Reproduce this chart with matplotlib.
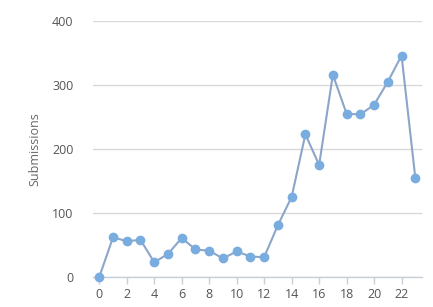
import matplotlib
matplotlib.use("Agg")
import matplotlib.pyplot as plt

hours = list(range(24))
submissions = [0, 62, 56, 58, 23, 36, 61, 43, 41, 29, 40, 32, 31, 81,
               125, 223, 175, 316, 255, 254, 269, 305, 346, 155]
x_ticks = list(range(0, 24, 2))
y_ticks = [0, 100, 200, 300, 400]
y_label = "Submissions"

plt.rcParams['font.family'] = ['Open Sans', 'DejaVu Sans']

fig = plt.figure(figsize=(4.33, 3.07), dpi=100)
ax = fig.add_axes([0.215, 0.0977, 0.76, 0.834])

ax.plot(hours, submissions, color='#8ca6ca', linewidth=1.5, zorder=3,
        marker='o', markersize=6.0, markerfacecolor='#7aaddf',
        markeredgecolor='#7aaddf', clip_on=False)

ax.set_xlim(-0.45, 23.5)
ax.set_ylim(0, 400)
ax.set_xticks(x_ticks)
ax.set_yticks(y_ticks)

ax.grid(axis='y', color='#d9d9d9', linewidth=1.0)
ax.set_axisbelow(True)
for s in ['top', 'right', 'left']:
    ax.spines[s].set_visible(False)
ax.spines['bottom'].set_color('#c8cfd8')
ax.spines['bottom'].set_linewidth(1.0)

ax.tick_params(axis='y', length=0, pad=14, labelsize=9, labelcolor='#555555')
ax.tick_params(axis='x', length=5, width=1, color='#c8cfd8', pad=3,
               labelsize=9, labelcolor='#555555')

ax.set_ylabel(y_label, fontsize=9, color='#666666', labelpad=8)

fig.savefig("out.png", dpi=100)
